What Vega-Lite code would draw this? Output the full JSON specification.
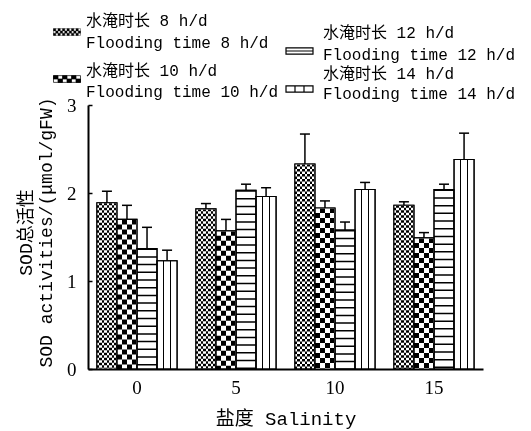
{
  "$schema": "https://vega.github.io/schema/vega-lite/v6.json",
  "width": 395,
  "height": 264,
  "autosize": "none",
  "padding": {"left": 88, "top": 105, "right": 48, "bottom": 62},
  "background": "white",
  "config": {
    "view": {"stroke": null},
    "font": "Liberation Mono, Noto Sans CJK SC",
    "legend": {
      "orient": "none",
      "direction": "vertical",
      "title": null,
      "padding": 0,
      "labelFont": "Liberation Mono, Noto Sans CJK SC",
      "labelFontSize": 16,
      "labelColor": "black",
      "labelLimit": 400,
      "labelOffset": 9.5,
      "symbolSize": 324,
      "symbolStrokeColor": "black",
      "symbolOpacity": 1
    }
  },
  "resolve": {"scale": {"fill": "independent"}, "legend": {"fill": "independent"}},
  "data": {
    "values": [
      {"s": "0", "g": "8", "v": 1.89, "hi": 2.02},
      {"s": "0", "g": "10", "v": 1.70, "hi": 1.86},
      {"s": "0", "g": "12", "v": 1.37, "hi": 1.61},
      {"s": "0", "g": "14", "v": 1.23, "hi": 1.35},
      {"s": "5", "g": "8", "v": 1.82, "hi": 1.88},
      {"s": "5", "g": "10", "v": 1.57, "hi": 1.70},
      {"s": "5", "g": "12", "v": 2.03, "hi": 2.10},
      {"s": "5", "g": "14", "v": 1.96, "hi": 2.06},
      {"s": "10", "g": "8", "v": 2.33, "hi": 2.67},
      {"s": "10", "g": "10", "v": 1.83, "hi": 1.91},
      {"s": "10", "g": "12", "v": 1.58, "hi": 1.67},
      {"s": "10", "g": "14", "v": 2.04, "hi": 2.12},
      {"s": "15", "g": "8", "v": 1.86, "hi": 1.90},
      {"s": "15", "g": "10", "v": 1.49, "hi": 1.55},
      {"s": "15", "g": "12", "v": 2.04, "hi": 2.10},
      {"s": "15", "g": "14", "v": 2.38, "hi": 2.68}
    ]
  },
  "encoding": {
    "x": {
      "field": "s", "type": "nominal",
      "scale": {"domain": ["0", "5", "10", "15"], "paddingInner": 0.19, "paddingOuter": 0.09},
      "axis": {
        "title": "盐度 Salinity",
        "titleFont": "Liberation Mono, Noto Sans CJK SC",
        "titleFontSize": 19,
        "titleFontWeight": "normal",
        "titleColor": "black",
        "titlePadding": 12,
        "labelFont": "Liberation Serif",
        "labelFontSize": 19,
        "labelColor": "black",
        "labelAngle": 0,
        "labelPadding": 9,
        "ticks": false,
        "domainColor": "black",
        "domainWidth": 2
      }
    },
    "xOffset": {
      "field": "g", "type": "nominal",
      "scale": {"domain": ["8", "10", "12", "14"], "paddingInner": 0, "paddingOuter": 0}
    }
  },
  "layer": [
    {
      "mark": {"type": "bar", "stroke": "black", "strokeWidth": 1.1},
      "encoding": {
        "y": {
          "field": "v", "type": "quantitative",
          "scale": {"domain": [0, 3], "nice": false},
          "axis": {
            "title": ["SOD总活性", "SOD activities/(μmol/gFW)"],
            "titleFont": "Liberation Mono, Noto Sans CJK SC",
            "titleFontSize": 18,
            "titleFontWeight": "normal",
            "titleColor": "black",
            "titleLineHeight": 20,
            "titleAlign": "center",
            "titleBaseline": "alphabetic",
            "titleAngle": -90,
            "titleX": -57,
            "titleY": 127,
            "values": [0, 1, 2, 3],
            "format": "d",
            "tickSize": -4,
            "tickWidth": 1.5,
            "tickColor": "black",
            "domainColor": "black",
            "domainWidth": 2,
            "grid": false,
            "labelFont": "Liberation Serif",
            "labelFontSize": 19,
            "labelColor": "black",
            "labelPadding": 16
          }
        },
        "fill": {
          "condition": [
            {"test": "datum.g === '8'", "value": {"gradient": "linear", "x1": 0, "y1": 0, "x2": 1, "y2": 0, "stops": [
                {"offset": 0, "color": "black"}, {"offset": 0.125, "color": "black"},
                {"offset": 0.125, "color": "white"}, {"offset": 0.25, "color": "white"},
                {"offset": 0.25, "color": "black"}, {"offset": 0.375, "color": "black"},
                {"offset": 0.375, "color": "white"}, {"offset": 0.5, "color": "white"},
                {"offset": 0.5, "color": "black"}, {"offset": 0.625, "color": "black"},
                {"offset": 0.625, "color": "white"}, {"offset": 0.75, "color": "white"},
                {"offset": 0.75, "color": "black"}, {"offset": 0.875, "color": "black"},
                {"offset": 0.875, "color": "white"}, {"offset": 1, "color": "white"}
              ]}},
            {"test": "datum.g === '10'", "value": {"gradient": "linear", "x1": 0, "y1": 0, "x2": 1, "y2": 0, "stops": [
                {"offset": 0, "color": "black"}, {"offset": 0.25, "color": "black"},
                {"offset": 0.25, "color": "white"}, {"offset": 0.5, "color": "white"},
                {"offset": 0.5, "color": "black"}, {"offset": 0.75, "color": "black"},
                {"offset": 0.75, "color": "white"}, {"offset": 1, "color": "white"}
              ]}},
            {"test": "datum.g === '14'", "value": {"gradient": "linear", "x1": 0, "y1": 0, "x2": 1, "y2": 0, "stops": [
                {"offset": 0, "color": "white"}, {"offset": 0.31, "color": "white"},
                {"offset": 0.31, "color": "black"}, {"offset": 0.37, "color": "black"},
                {"offset": 0.37, "color": "white"}, {"offset": 0.64, "color": "white"},
                {"offset": 0.64, "color": "black"}, {"offset": 0.7, "color": "black"},
                {"offset": 0.7, "color": "white"}, {"offset": 1, "color": "white"}
              ]}}
          ],
          "value": "white"
        }
      }
    },
    {
      "transform": [{"filter": "datum.g === '8' || datum.g === '10'"}],
      "mark": {"type": "rule", "stroke": "white", "strokeWidth": 20, "strokeCap": "butt", "blend": "difference"},
      "encoding": {
        "y": {"field": "v", "type": "quantitative"},
        "y2": {"datum": 0},
        "strokeDash": {"condition": {"test": "datum.g === '8'", "value": [2.5, 2.5]}, "value": [5, 5]}
      }
    },
    {
      "transform": [{"filter": "datum.g === '12'"}],
      "mark": {"type": "rule", "stroke": "black", "strokeWidth": 20, "strokeCap": "butt", "strokeDash": [1.5, 6.2]},
      "encoding": {
        "y": {"field": "v", "type": "quantitative"},
        "y2": {"datum": 0}
      }
    },
    {
      "transform": [{"filter": "datum.g === '8'"}],
      "mark": {"type": "bar", "fillOpacity": 0, "stroke": "black", "strokeWidth": 1.1},
      "encoding": {
        "y": {"field": "v", "type": "quantitative"},
        "fill": {
          "field": "g", "type": "nominal",
          "scale": {"domain": ["8"], "range": ["black"]},
          "legend": {
            "legendX": -30.5,
            "legendY": -82.5,
            "labelExpr": "['水淹时长 ' + datum.label + ' h/d', 'Flooding time ' + datum.label + ' h/d']",
            "symbolType": "M-1.5,-0.375H1.5M1.5,-0.375V0.375M1.5,0.375H-1.5M-1.5,0.375V-0.375M-1.5,-0.375H-1.25V-0.125H-1.5ZM-1,-0.375H-0.75V-0.125H-1ZM-0.5,-0.375H-0.25V-0.125H-0.5ZM0,-0.375H0.25V-0.125H0ZM0.5,-0.375H0.75V-0.125H0.5ZM1,-0.375H1.25V-0.125H1ZM-1.25,-0.125H-1V0.125H-1.25ZM-0.75,-0.125H-0.5V0.125H-0.75ZM-0.25,-0.125H0V0.125H-0.25ZM0.25,-0.125H0.5V0.125H0.25ZM0.75,-0.125H1V0.125H0.75ZM1.25,-0.125H1.5V0.125H1.25ZM-1.5,0.125H-1.25V0.375H-1.5ZM-1,0.125H-0.75V0.375H-1ZM-0.5,0.125H-0.25V0.375H-0.5ZM0,0.125H0.25V0.375H0ZM0.5,0.125H0.75V0.375H0.5ZM1,0.125H1.25V0.375H1Z",
            "symbolStrokeWidth": 0.4,
            "encode": {
              "labels": {"update": {"lineHeight": {"value": 22}, "dy": {"value": -11.5}}},
              "symbols": {"update": {"opacity": {"value": 1}, "fillOpacity": {"value": 1}}}
            }
          }
        }
      }
    },
    {
      "transform": [{"filter": "datum.g === '10'"}],
      "mark": {"type": "bar", "fillOpacity": 0, "stroke": "black", "strokeWidth": 1.1},
      "encoding": {
        "y": {"field": "v", "type": "quantitative"},
        "fill": {
          "field": "g", "type": "nominal",
          "scale": {"domain": ["10"], "range": ["black"]},
          "legend": {
            "legendX": -30.5,
            "legendY": -35.5,
            "labelExpr": "['水淹时长 ' + datum.label + ' h/d', 'Flooding time ' + datum.label + ' h/d']",
            "symbolType": "M-1.5,-0.375H1.5M1.5,-0.375V0.375M1.5,0.375H-1.5M-1.5,0.375V-0.375M-1.5,-0.375H-1V0H-1.5ZM-0.5,-0.375H0V0H-0.5ZM0.5,-0.375H1V0H0.5ZM-1,0H-0.5V0.375H-1ZM0,0H0.5V0.375H0ZM1,0H1.5V0.375H1Z",
            "symbolStrokeWidth": 0.7,
            "encode": {
              "labels": {"update": {"lineHeight": {"value": 21}, "dy": {"value": -8.5}}},
              "symbols": {"update": {"opacity": {"value": 1}, "fillOpacity": {"value": 1}}}
            }
          }
        }
      }
    },
    {
      "transform": [{"filter": "datum.g === '12'"}],
      "mark": {"type": "bar", "fillOpacity": 0, "stroke": "black", "strokeWidth": 1.1},
      "encoding": {
        "y": {"field": "v", "type": "quantitative"},
        "fill": {
          "field": "g", "type": "nominal",
          "scale": {"domain": ["12"], "range": ["white"]},
          "legend": {
            "legendX": 201.5,
            "legendY": -64,
            "labelOffset": 13.5,
            "labelExpr": "['水淹时长 ' + datum.label + ' h/d', 'Flooding time ' + datum.label + ' h/d']",
            "symbolType": "M-1.5,-0.35H1.5V0.35H-1.5ZM-1.5,0H1.5",
            "symbolStrokeWidth": 1.2,
            "encode": {
              "labels": {"update": {"lineHeight": {"value": 22}, "dy": {"value": -18.5}}},
              "symbols": {"update": {"opacity": {"value": 1}, "fillOpacity": {"value": 1}}}
            }
          }
        }
      }
    },
    {
      "transform": [{"filter": "datum.g === '14'"}],
      "mark": {"type": "bar", "fillOpacity": 0, "stroke": "black", "strokeWidth": 1.1},
      "encoding": {
        "y": {"field": "v", "type": "quantitative"},
        "fill": {
          "field": "g", "type": "nominal",
          "scale": {"domain": ["14"], "range": ["white"]},
          "legend": {
            "legendX": 201.5,
            "legendY": -26,
            "labelOffset": 13.5,
            "labelExpr": "['水淹时长 ' + datum.label + ' h/d', 'Flooding time ' + datum.label + ' h/d']",
            "symbolType": "M-1.5,-0.35H1.5V0.35H-1.5ZM-0.5,-0.35V0.35M0.5,-0.35V0.35",
            "symbolStrokeWidth": 1.2,
            "encode": {
              "labels": {"update": {"lineHeight": {"value": 20}, "dy": {"value": -15.5}}},
              "symbols": {"update": {"opacity": {"value": 1}, "fillOpacity": {"value": 1}}}
            }
          }
        }
      }
    },
    {
      "mark": {"type": "rule", "stroke": "black", "strokeWidth": 1.5},
      "encoding": {
        "y": {"field": "v", "type": "quantitative"},
        "y2": {"field": "hi"}
      }
    },
    {
      "mark": {"type": "tick", "orient": "horizontal", "size": 10, "thickness": 1.5, "color": "black", "opacity": 1},
      "encoding": {
        "y": {"field": "hi", "type": "quantitative"}
      }
    }
  ]
}
